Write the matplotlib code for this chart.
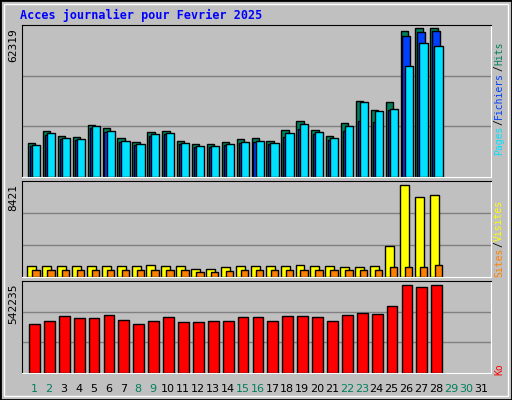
import matplotlib.pyplot as plt
import numpy as np

days = np.arange(1, 32)
ndata = 28
hits = [14300, 19400, 17300, 16800, 21900, 20600, 16400, 14700, 18900, 19400,
        15200, 13900, 13900, 14700, 16000, 16400, 15200, 19800, 23600, 19800,
        17300, 22700, 31600, 28200, 31200, 61000, 62319, 62200]
files = [12800, 17600, 15800, 15400, 20400, 18900, 14700, 13200, 17300, 17800,
         13800, 12600, 12600, 13200, 14200, 14700, 13600, 16800, 19900, 17800,
         15600, 19200, 23500, 23100, 28000, 58900, 60600, 61000]
pages = [13500, 18500, 16400, 16000, 21500, 19400, 15200, 13900, 18100, 18500,
         14300, 13000, 13000, 13900, 14700, 15200, 14300, 18500, 22300, 18900,
         16400, 21500, 31200, 27800, 28600, 46300, 56000, 54700]
visits = [1000, 1000, 1000, 1000, 1000, 1000, 1000, 1000, 1100, 1000,
          1000, 700, 700, 900, 1000, 1000, 1000, 1000, 1100, 1000,
          1000, 950, 950, 1000, 2840, 8421, 7320, 7500]
sites = [600, 600, 600, 600, 600, 600, 600, 600, 600, 600,
         600, 500, 500, 550, 600, 600, 600, 620, 620, 640,
         630, 600, 600, 650, 900, 950, 950, 1050]
kbytes = [298000, 317000, 347000, 335000, 335000, 353000, 323000, 298000, 317000, 341000,
          311000, 311000, 317000, 317000, 341000, 341000, 317000, 347000, 347000, 341000,
          317000, 353000, 365000, 359000, 408000, 542235, 530000, 542235]
weekend = [1, 2, 8, 9, 15, 16, 22, 23, 29, 30]

W, H = 512, 400
fig = plt.figure(figsize=(W / 100, H / 100), dpi=100)
fig.patch.set_facecolor('#c0c0c0')
mono = 'DejaVu Sans Mono'

# outer frame
fig.add_artist(plt.Rectangle((0, 0), 1, 1, transform=fig.transFigure, fill=False,
                             edgecolor='black', linewidth=2))
fig.add_artist(plt.Rectangle((4 / W, 4 / H), 504 / W, 392 / H, transform=fig.transFigure,
                             fill=False, edgecolor='white', linewidth=1))


def panel(top, bottom):
    ax = fig.add_axes([22 / W, 1 - bottom / H, (491 - 22) / W, (bottom - top) / H])
    ax.set_facecolor('#c0c0c0')
    ax.set_xlim(0.195, 31.67)
    for s in ['left', 'top']:
        ax.spines[s].set_color('black')
    for s in ['right', 'bottom']:
        ax.spines[s].set_color('white')
    ax.set_xticks([])
    ax.set_yticks([])
    return ax


x = days[:ndata]
ec = dict(edgecolor='black', linewidth=1)

ax1 = panel(25, 177)
ymax1 = max(hits) * 1.02
ax1.set_ylim(0, ymax1)
for g in (ymax1 / 3, 2 * ymax1 / 3):
    ax1.axhline(g, color='#808080', linewidth=1, zorder=0)
ax1.bar(x - 0.4, hits, width=0.5, align='edge', color='#00805c', **ec)
ax1.bar(x - 0.27, files, width=0.5, align='edge', color='#0040ff', **ec)
ax1.bar(x - 0.13, pages, width=0.55, align='edge', color='#00e0ff', **ec)

ax2 = panel(181, 277)
ymax2 = max(visits) * 1.04
ax2.set_ylim(0, ymax2)
for g in (ymax2 / 3, 2 * ymax2 / 3):
    ax2.axhline(g, color='#808080', linewidth=1, zorder=0)
ax2.bar(x - 0.45, visits, width=0.6, align='edge', color='#ffff00', **ec)
ax2.bar(x - 0.12, sites, width=0.5, align='edge', color='#ff8000', **ec)

ax3 = panel(281, 373)
ymax3 = max(kbytes) * 1.04
ax3.set_ylim(0, ymax3)
for g in (ymax3 / 3, 2 * ymax3 / 3):
    ax3.axhline(g, color='#808080', linewidth=1, zorder=0)
ax3.bar(x - 0.33, kbytes, width=0.72, align='edge', color='#ff0000', **ec)

# title
fig.text(20 / W, 1 - 15 / H, 'Acces journalier pour Fevrier 2025', color='#0000ff',
         fontsize=8.5, fontweight='bold', family=mono, va='center')

# max value labels
for txt, ytop in [(str(max(hits)), 28), (str(max(visits)), 184), (str(max(kbytes)), 284)]:
    fig.text(13 / W, 1 - ytop / H, txt, rotation=90, family=mono, fontsize=8,
             ha='center', va='top')

renderer = fig.canvas.get_renderer()


# right side legends (bottom to top), segments measured with the renderer
def vlegend(parts, ybottom):
    y = ybottom
    for txt, col in parts:
        t = fig.text(499 / W, 1 - y / H, txt, rotation=90, color=col, family=mono,
                     fontsize=7, ha='center', va='bottom')
        y -= t.get_window_extent(renderer).height + 0.5

vlegend([('Pages', '#00e0ff'), ('/', '#000000'), ('Fichiers', '#0040ff'),
         ('/', '#000000'), ('Hits', '#00805c')], 155)
vlegend([('Sites', '#ff8000'), ('/', '#000000'), ('Visites', '#ffff00')], 277)
vlegend([('Ko', '#ff0000')], 375)

# day labels
for d in days:
    col = '#00805c' if d in weekend else 'black'
    fig.text((34 + (d - 1) * 14.9) / W, 1 - 389 / H, str(d), color=col,
             fontsize=8, ha='center', va='center')

fig.savefig('out.png', dpi=100, facecolor=fig.get_facecolor())
